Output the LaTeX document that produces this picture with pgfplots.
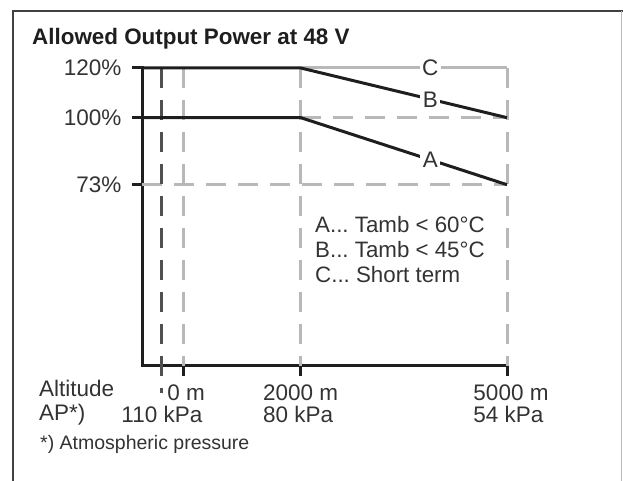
\documentclass[border=0pt]{standalone}
\usepackage{pgfplots}
\pgfplotsset{compat=1.18}
\usepackage{fontspec}
\setmainfont{Liberation Sans}
\definecolor{axc}{HTML}{1E1E1E}
\definecolor{lg}{HTML}{B8B8B8}
\definecolor{dg}{HTML}{505050}
\definecolor{txt}{HTML}{333333}
\begin{document}
\frenchspacing
\begin{tikzpicture}[x=1pt,y=1pt]
\useasboundingbox (0,0) rectangle (623,481);
\draw[line width=2.5pt, color=axc!85] (630,470) -- (13,470) -- (13,-5);
\draw[line width=1pt, color=lg] (621.5,470) -- (621.5,-5);
\node[anchor=base west, font=\fontsize{22.4}{26}\selectfont\bfseries, text=axc, inner sep=0pt] at (32,436.5) {Allowed Output Power at 48 V};
\begin{axis}[
  at={(142pt,115pt)}, anchor=south west,
  scale only axis, width=365pt, height=298pt,
  xmin=-698, xmax=5000, ymin=0, ymax=120,
  x coord trafo/.code={\pgfmathparse{min(#1,2000)+1.1686*max(#1-2000,0)}},
  x coord inv trafo/.code={\pgfmathparse{min(#1,2000)+max(#1-2000,0)/1.1686}},
  axis x line*=bottom, axis y line*=left,
  axis line style={line width=3pt, color=axc, -, line cap=rect},
  clip=false, no markers,
  tick align=outside,
  major tick length=10pt,
  tick style={line width=3pt, color=axc},
  tick label style={font=\fontsize{22.5}{22.5}\selectfont, text=txt},
  xticklabel style={align=left, anchor=north, yshift=-5pt},
  yticklabel style={xshift=-7pt},
  xtick={0,2000,5000},
  xticklabels={{\hspace*{6pt}0 m}, {2000 m\\80 kPa}, {\hspace*{8pt}5000 m\\\hspace*{8pt}54 kPa}},
  extra x ticks={-360},
  extra x tick labels={{\vphantom{0}\\110 kPa}},
  ytick={73,100,120},
  yticklabels={73\%,100\%,120\%},
]
\addplot[lg, line width=3pt] coordinates {(2000,120) (5000,120)};
\addplot[lg, line width=3pt, dash pattern=on 20pt off 12pt] coordinates {(5000,120) (5000,0)};
\addplot[lg, line width=3pt, dash pattern=on 20pt off 12pt] coordinates {(2000,100) (5000,100)};
\addplot[lg, line width=3pt, dash pattern=on 20pt off 12pt] coordinates {(-698,73) (5000,73)};
\addplot[lg, line width=3pt, dash pattern=on 20pt off 12pt] coordinates {(0,120) (0,0)};
\addplot[lg, line width=3pt, dash pattern=on 20pt off 12pt] coordinates {(2000,120) (2000,0)};
\addplot[dg, line width=3pt, dash pattern=on 20pt off 12pt] coordinates {(-360,120) (-360,-11)};
\addplot[axc, line width=3pt] coordinates {(-698,120) (2000,120) (5000,100)};
\addplot[axc, line width=3pt] coordinates {(-698,100) (2000,100) (5000,73)};
\node[fill=white, inner sep=2.5pt, text=txt, font=\fontsize{22.5}{23}\selectfont] at (axis cs:3885,120) {C};
\node[fill=white, inner sep=2.5pt, text=txt, font=\fontsize{22.5}{23}\selectfont] at (axis cs:3885,107.4) {B};
\node[fill=white, inner sep=2.5pt, text=txt, font=\fontsize{22.5}{23}\selectfont] at (axis cs:3885,83) {A};
\end{axis}
\node[anchor=base west, inner sep=0pt, align=left, text=txt, font=\fontsize{22.3}{25}\selectfont] at (315,198.3) {A... Tamb < 60°C\\B... Tamb < 45°C\\C... Short term};
\node[anchor=base west, inner sep=0pt, text=txt, font=\fontsize{22.5}{23}\selectfont] at (39,84.5) {Altitude};
\node[anchor=base west, inner sep=0pt, text=txt, font=\fontsize{22.5}{23}\selectfont] at (39,60) {AP*)};
\node[anchor=base west, inner sep=0pt, text=txt, font=\fontsize{19.5}{20}\selectfont] at (40,31) {*) Atmospheric pressure};
\end{tikzpicture}
\end{document}
